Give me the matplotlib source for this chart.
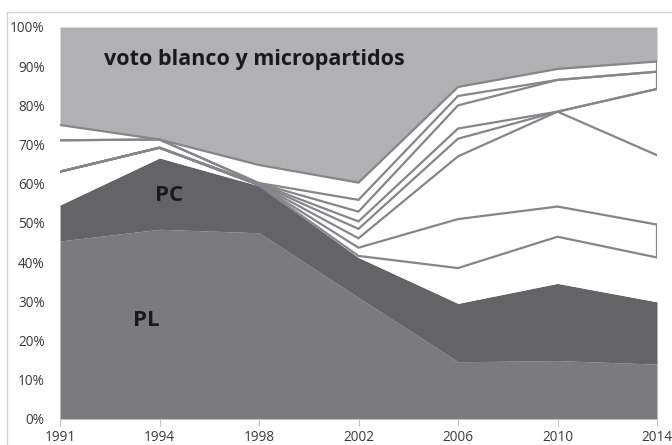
import matplotlib
matplotlib.use("Agg")
import matplotlib.pyplot as plt
from matplotlib.lines import Line2D
import numpy as np

years = ["1991", "1994", "1998", "2002", "2006", "2010", "2014"]

# vote shares (%) stacked bottom -> top
pl = [45.4, 48.4, 47.5, 31.0, 14.6, 14.9, 14.0]
pc = [9.2, 18.2, 12.0, 10.2, 14.9, 19.7, 15.9]
otro1 = [8.5, 2.6, 0.1, 0.4, 9.0, 11.9, 11.3]
otro2 = [0.0, 0.0, 0.1, 2.1, 12.5, 7.7, 8.4]
otro3 = [0.0, 0.0, 0.1, 2.4, 16.0, 24.2, 17.7]
otro4 = [0.0, 0.0, 0.1, 2.4, 4.5, 0.0, 16.9]
otro5 = [0.0, 0.0, 0.1, 1.9, 2.6, 0.0, 0.0]
otro6 = [8.0, 2.1, 0.1, 2.5, 5.9, 8.1, 4.4]
otro7 = [0.0, 0.0, 0.1, 3.0, 2.4, 0.0, 0.0]
otro8 = [3.9, 0.0, 4.6, 4.4, 2.3, 2.8, 2.6]
otros = [otro1, otro2, otro3, otro4, otro5, otro6, otro7, otro8]
blanco = [100 - sum(v) for v in zip(pl, pc, *otros)]

y_ticks = [0, 10, 20, 30, 40, 50, 60, 70, 80, 90, 100]

W, H = 672, 445
fig = plt.figure(figsize=(W / 100, H / 100), dpi=100)
ax = fig.add_axes([60 / W, 1 - 419 / H, (657 - 60) / W, (419 - 27) / H])

x = np.arange(len(years))
pl_a = np.array(pl)
pc_top = pl_a + np.array(pc)

c_pl = "#7b7b7e"
c_pc = "#646467"
c_bl = "#b1b1b4"
c_line = "#86868a"

ax.fill_between(x, 0, pl_a, color=c_pl, lw=0, zorder=1)
ax.fill_between(x, pl_a, pc_top, color=c_pc, lw=0, zorder=1)

bottom = pc_top.copy()
tops = []
for s in otros:
    top = bottom + np.array(s)
    ax.fill_between(x, bottom, top, color="white", lw=0, zorder=1)
    tops.append(top)
    bottom = top
ax.fill_between(x, bottom, bottom + np.array(blanco), color=c_bl, lw=0, zorder=1)

for top in tops:
    ax.plot(x, top, color=c_line, lw=1.6, zorder=3, solid_joinstyle="miter")

# right-edge borders visible in the original
right_edges = [(1, 2), (5, 8)]
for lo, hi in right_edges:
    ax.plot([x[-1], x[-1]], [tops[lo - 1][-1], tops[hi - 1][-1]], color=c_line, lw=1.6, zorder=3)

ax.set_xlim(0, len(years) - 1)
ax.set_ylim(0, 100)
ax.set_xticks(x)
ax.set_xticklabels(years)
ax.set_yticks(y_ticks)
ax.set_yticklabels([f"{t}%" for t in y_ticks])

for sp in ["top", "right", "left"]:
    ax.spines[sp].set_visible(False)
ax.spines["bottom"].set_color("#bfbfbf")
ax.tick_params(axis="y", length=0, pad=11, labelsize=9.8, labelcolor="#3a3a3a")
ax.tick_params(axis="x", length=5, color="#bfbfbf", pad=3, labelsize=9.8, labelcolor="#3a3a3a")
for lab in ax.get_xticklabels() + ax.get_yticklabels():
    lab.set_family("Open Sans")

ax.text(1.95, 91.8, "voto blanco y micropartidos", fontsize=15.5, fontweight="bold",
        family="Open Sans", color="#1a1a1a", ha="center", va="center", zorder=5)
ax.text(1.1, 57, "PC", fontsize=16, fontweight="bold", family="Open Sans",
        color="#1a1a1a", ha="center", va="center", zorder=5)
ax.text(0.87, 25, "PL", fontsize=16, fontweight="bold", family="Open Sans",
        color="#1a1a1a", ha="center", va="center", zorder=5)

# chart-area border (top and left visible)
fig.add_artist(Line2D([7 / W, 1], [1 - 12 / H, 1 - 12 / H], color="#d4d4d4", lw=1))
fig.add_artist(Line2D([7 / W, 7 / W], [0, 1 - 12 / H], color="#d4d4d4", lw=1))

fig.savefig("out.png", dpi=100)
